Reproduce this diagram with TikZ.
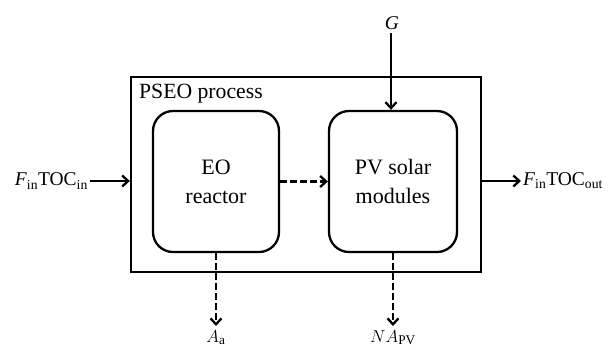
\documentclass[tikz,border=0pt]{standalone}
\usepackage{fontspec}
\setmainfont{Liberation Serif}
\usetikzlibrary{arrows.meta}
\begin{document}
\begin{tikzpicture}[x=1pt,y=-1pt,
  line width=2.3pt,
  tip/.style={-{Straight Barb[length=6pt,width=11pt,line width=2.3pt]}},
  dsh/.style={dash pattern=on 6.5pt off 3.5pt},
  unit/.style={draw,rounded corners=20pt,minimum width=126pt,minimum height=141pt,align=center,inner sep=0pt,font=\fontsize{22}{29}\selectfont},
  lbl/.style={inner sep=1pt,font=\fontsize{19.5}{22}\selectfont}]
\useasboundingbox (0,0) rectangle (613,349);
\node[draw,minimum width=350pt,minimum height=195pt,inner sep=0pt] (outer) at (306,174.5) {};
\node[anchor=north west,inner sep=0pt,font=\fontsize{21.7}{24}\selectfont] (title) at (138,83) {PSEO process};
\node[unit] (eo) at (216,181.5) {EO\\reactor};
\node[unit,minimum width=128pt] (pv) at (393,181.5) {PV solar\\modules};
\node[lbl,anchor=east] (fin) at (90,181) {\textit{F}\textsubscript{in}TOC\textsubscript{in}};
\node[lbl,anchor=west] (fout) at (521,181) {\textit{F}\textsubscript{in}TOC\textsubscript{out}};
\node[lbl,anchor=south] (g) at (392,32) {\textit{G}};
\coordinate (ga) at (391,33);
\coordinate (aend) at (216,326);
\coordinate (nend) at (393,326);
\node[inner sep=0pt,anchor=base,font=\fontsize{19}{22}\selectfont] (aa) at (216,342) {$A_\mathrm{a}$};
\node[inner sep=0pt,anchor=base,font=\fontsize{19}{22}\selectfont] (npv) at (393,342) {$NA_\mathrm{PV}$};
\draw[tip] (fin.east) -- (fin.east -| outer.west);
\draw[tip] (fin.east -| outer.east) -- (fout.west);
\draw[tip] (ga) -- (ga |- pv.north);
\draw[tip,dsh] (eo.east) -- (pv.west);
\draw[tip,dsh] (eo.south) -- (aend);
\draw[tip,dsh] (pv.south) -- (nend);
\end{tikzpicture}
\end{document}
